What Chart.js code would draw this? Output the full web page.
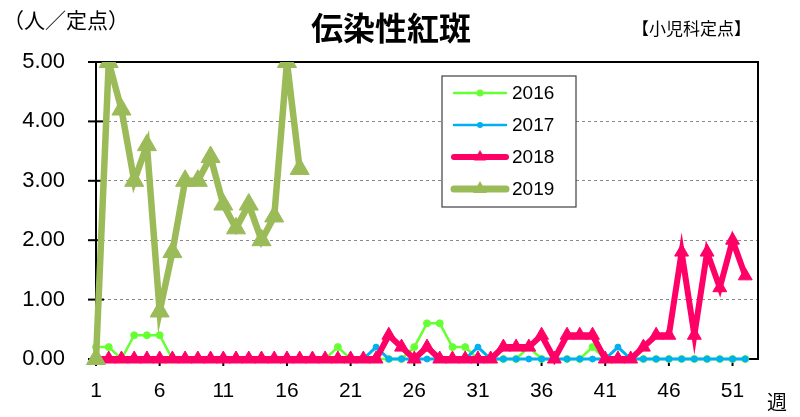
<!DOCTYPE html>
<html><head><meta charset="utf-8">
<script src="https://cdn.jsdelivr.net/npm/chart.js@4"></script>
<style>
body{margin:0;background:#fff;}
#wrap{position:relative;width:800px;height:417px;}
.t{position:absolute;font-family:"Noto Sans CJK JP";color:#000;white-space:nowrap;line-height:1;}
</style></head><body>
<div id="wrap">
<canvas id="c" width="800" height="417"></canvas>
<div class="t" style="left:3px;top:9px;font-size:21px">（人／定点）</div>
<div class="t" style="left:311px;top:10px;font-size:32px;font-weight:bold">伝染性紅斑</div>
<div class="t" style="left:632px;top:19px;font-size:17px">【小児科定点】</div>
<div class="t" style="left:767px;top:392px;font-size:20px">週</div>
</div>
<script>
// weeks on the x axis (1..53)
const weeks=['1','2','3','4','5','6','7','8','9','10','11','12','13','14','15','16','17','18','19','20',
 '21','22','23','24','25','26','27','28','29','30','31','32','33','34','35','36','37','38','39','40',
 '41','42','43','44','45','46','47','48','49','50','51','52','53'];
const yTicks=[0,1,2,3,4,5];

// per-sentinel counts
const y2016=[0.2,0.2,0,0.4,0.4,0.4,0,0,0,0, 0,0,0,0,0,0,0,0,0,0.2, 0,0,0,0,0,0.2,0.6,0.6,0.2,0.2,
 0,0,0,0,0.2,0,0,0,0,0.2, 0,0,0,0,0,0,0,0,0,0, 0,0];
const y2017=[0,0,0,0,0,0,0,0,0,0, 0,0,0,0,0,0,0,0,0,0, 0,0,0.2,0,0,0,0,0,0,0,
 0.2,0,0,0,0,0,0,0,0,0, 0,0.2,0,0,0,0,0,0,0,0, 0,0];
const y2018=[0,0,0,0,0,0,0,0,0,0, 0,0,0,0,0,0,0,0,0,0, 0,0,0,0.4,0.2,0,0.2,0,0,0,
 0,0,0.2,0.2,0.2,0.4,0,0.4,0.4,0.4, 0,0,0,0.2,0.4,0.4,1.8,0.4,1.8,1.2, 2.0,1.4];
const y2019=[0,5.0,4.2,3.0,3.6,0.8,1.8,3.0,3.0,3.4, 2.6,2.2,2.6,2.0,2.4,5.0,3.2];

const series=[
  {label:'2016',data:y2016,color:'#66FF33',width:2.5,style:'circle',r:3.5,order:3,lw:2.5,lr:3.5},
  {label:'2017',data:y2017,color:'#00B0F0',width:3,style:'circle',r:3,order:2,lw:2.5,lr:3},
  {label:'2018',data:y2018,color:'#FF0066',width:6,style:'triangle',r:8,order:1,lw:6,lr:7},
  {label:'2019',data:y2019,color:'#9BBB59',width:6.5,style:'triangle',r:11,order:0,lw:7,lr:8}
];

const numFont='"Liberation Sans", Arial, sans-serif';

// frame, axis lines and tick marks
const framePlugin={
  id:'frame',
  beforeDatasetsDraw(chart){
    const ctx=chart.ctx, a=chart.chartArea, xs=chart.scales.x, ys=chart.scales.y;
    ctx.save();
    ctx.strokeStyle='#000'; ctx.lineWidth=2;
    ctx.strokeRect(a.left,a.top,a.right-a.left,a.bottom-a.top);
    yTicks.forEach(v=>{
      let y=ys.getPixelForValue(v);
      ctx.beginPath(); ctx.moveTo(a.left-8,y); ctx.lineTo(a.left+8,y); ctx.stroke();
    });
    weeks.forEach((w,i)=>{
      if(i%5) return;
      let x=xs.getPixelForValue(i);
      ctx.beginPath(); ctx.moveTo(x,a.bottom); ctx.lineTo(x,a.bottom+7); ctx.stroke();
    });
    ctx.restore();
  },
  afterDraw(chart){
    const ctx=chart.ctx;
    ctx.save();
    ctx.fillStyle='#fff'; ctx.fillRect(442,76,134,131);
    ctx.strokeStyle='#404040'; ctx.lineWidth=1.2; ctx.strokeRect(442,76,134,131);
    const rows=[93,125,157,189];
    series.forEach((s,i)=>{
      let y=rows[i];
      ctx.strokeStyle=s.color; ctx.fillStyle=s.color;
      ctx.lineWidth=s.lw; ctx.lineCap='round';
      ctx.beginPath(); ctx.moveTo(454,y); ctx.lineTo(506,y); ctx.stroke();
      ctx.beginPath();
      if(s.style=='circle') ctx.arc(480,y,s.lr,0,Math.PI*2);
      else {
        for(let k=0;k<3;k++){
          let ang=k*2*Math.PI/3;
          let px=480+Math.sin(ang)*s.lr, py=y-Math.cos(ang)*s.lr;
          k?ctx.lineTo(px,py):ctx.moveTo(px,py);
        }
        ctx.closePath();
      }
      ctx.fill();
      ctx.fillStyle='#000'; ctx.font='19px '+numFont; ctx.textBaseline='middle';
      ctx.fillText(s.label,512,y+1);
    });
    ctx.restore();
  }
};

new Chart(document.getElementById('c'),{
  type:'line',
  data:{
    labels:weeks,
    datasets:series.map(s=>({
      label:s.label, data:s.data, order:s.order,
      borderColor:s.color, backgroundColor:s.color, borderWidth:s.width,
      pointStyle:s.style, pointRadius:s.r, pointHoverRadius:s.r,
      pointBackgroundColor:s.color, pointBorderColor:s.color, pointBorderWidth:1,
      tension:0, fill:false,
      clip:{left:12,right:12,top:0,bottom:15}
    }))
  },
  options:{
    responsive:false, animation:false,
    layout:{padding:{top:62,right:42,left:0,bottom:0}},
    plugins:{legend:{display:false},tooltip:{enabled:false}},
    scales:{
      x:{
        offset:false,
        grid:{display:false},
        border:{display:false},
        afterFit(s){s.height=58;},
        ticks:{autoSkip:false,maxRotation:0,padding:12,color:'#000',
          font:{family:numFont,size:21},
          callback:(v,i)=>i%5===0?weeks[i]:''}
      },
      y:{
        min:0,max:5,
        afterFit(s){s.width=96;},
        grid:{color:'#8a8a8a',lineWidth:1,drawTicks:false},
        border:{display:false,dash:[3,3]},
        ticks:{stepSize:1,padding:31,color:'#000',
          font:{family:numFont,size:22},
          callback:v=>v.toFixed(2)}
      }
    }
  },
  plugins:[framePlugin]
});
</script>
</body></html>
